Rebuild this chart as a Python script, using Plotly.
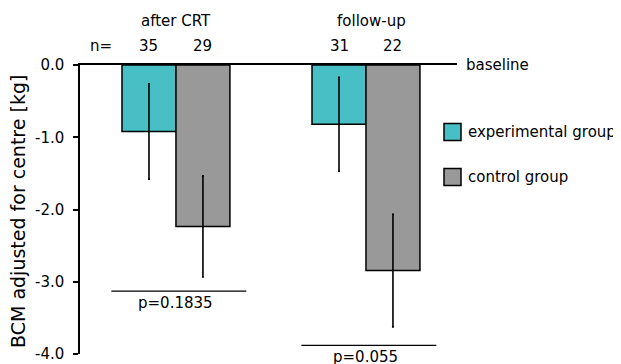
import plotly.graph_objects as go

# ---------------- data ----------------
categories = ["after CRT", "follow-up"]
exp_mean = [-0.92, -0.82]
exp_err = [0.66, 0.65]
ctrl_mean = [-2.235, -2.845]
ctrl_err = [0.70, 0.78]
exp_n = [35, 31]
ctrl_n = [29, 22]
p_labels = ["p=0.1835", "p=0.055"]
p_line_y = [-3.13, -3.88]
y_ticks = [0.0, -1.0, -2.0, -3.0, -4.0]
y_ticktext = ["0.0", "-1.0", "-2.0", "-3.0", "-4.0"]

TEAL = "#48bfc5"
GRAY = "#999999"
FONT = "DejaVu Sans"
OFF = 8  # default page body margin
W, H = 621 - OFF, 364 - OFF
# plot area in page pixels: x 80..457, y 65..354
PL, PR, PT, PB = 80, 457, 65, 354
PW, PH = PR - PL, PB - PT


def pxx(x):
    return (x - PL) / PW


def pxy(y):
    return (PB - y) / PH


fig = go.Figure()
fig.add_trace(go.Bar(
    x=categories, y=exp_mean, name="experimental group",
    marker=dict(color=TEAL, line=dict(color="black", width=1.5)),
    error_y=dict(type="data", array=exp_err, color="black", thickness=1.6, width=1),
))
fig.add_trace(go.Bar(
    x=categories, y=ctrl_mean, name="control group",
    marker=dict(color=GRAY, line=dict(color="black", width=1.5)),
    error_y=dict(type="data", array=ctrl_err, color="black", thickness=1.6, width=1),
))

bw = 0.284
ann = []
shapes = []
C = dict(showarrow=False, xanchor="center", yanchor="middle")
for i, cat in enumerate(categories):
    ann.append(dict(x=i, y=pxy(21), xref="x", yref="paper", text=cat,
                    font=dict(size=15), xshift=0 if i == 0 else 6, **C))
    ann.append(dict(x=i - bw / 2, y=pxy(46), xref="x", yref="paper", text=str(exp_n[i]),
                    font=dict(size=15), **C))
    ann.append(dict(x=i + bw / 2, y=pxy(46), xref="x", yref="paper", text=str(ctrl_n[i]),
                    font=dict(size=15), **C))
    shapes.append(dict(type="line", xref="x", yref="y", x0=i - 0.34, x1=i + 0.37,
                       y0=p_line_y[i], y1=p_line_y[i], line=dict(color="black", width=1.2)))
    ann.append(dict(x=i, y=p_line_y[i], xref="x", yref="y", text=p_labels[i], showarrow=False,
                    xanchor="center", yanchor="top", yshift=-1, font=dict(size=15)))

ann.append(dict(x=pxx(101), y=pxy(46), xref="paper", yref="paper", text="n=",
                font=dict(size=15), **C))
ann.append(dict(x=pxx(464), y=1.0, xref="paper", yref="paper", text="baseline", showarrow=False,
                xanchor="left", yanchor="middle", font=dict(size=15)))
ann.append(dict(x=pxx(18), y=pxy(212), xref="paper", yref="paper", text="BCM adjusted for centre [kg]",
                textangle=-90, font=dict(size=19), **C))

# legend drawn manually
for (col, name, yc) in [(TEAL, "experimental group", 132), (GRAY, "control group", 177)]:
    shapes.append(dict(type="rect", xref="paper", yref="paper", x0=pxx(444), x1=pxx(461),
                       y0=pxy(yc + 8.5), y1=pxy(yc - 8.5), fillcolor=col,
                       line=dict(color="black", width=1.5)))
    ann.append(dict(x=pxx(466), y=pxy(yc), xref="paper", yref="paper", text=name, showarrow=False,
                    xanchor="left", yanchor="middle", font=dict(size=15)))

fig.update_layout(
    width=W, height=H,
    margin=dict(l=PL - OFF, r=W - (PR - OFF), t=PT - OFF, b=H - (PB - OFF), pad=0,
                autoexpand=False),
    paper_bgcolor="white", plot_bgcolor="white",
    font=dict(family=FONT, color="black", size=15),
    barmode="group", bargap=0.432, bargroupgap=0,
    showlegend=False,
    annotations=ann, shapes=shapes,
)
fig.update_xaxes(side="top", showline=True, linecolor="black", linewidth=1.5,
                 showticklabels=False, ticks="", showgrid=False, zeroline=False,
                 automargin=False, range=[-0.505, 1.479])
fig.update_yaxes(range=[-4.0, 0.0], tickvals=y_ticks, ticktext=y_ticktext,
                 showline=True, linecolor="black", linewidth=1.5,
                 ticks="outside", ticklen=5, tickwidth=1.5, tickcolor="black",
                 showgrid=False, zeroline=False, ticklabelstandoff=6, automargin=False,
                 ticklabeloverflow="allow", tickfont=dict(size=15))

fig.write_html("out.html")
